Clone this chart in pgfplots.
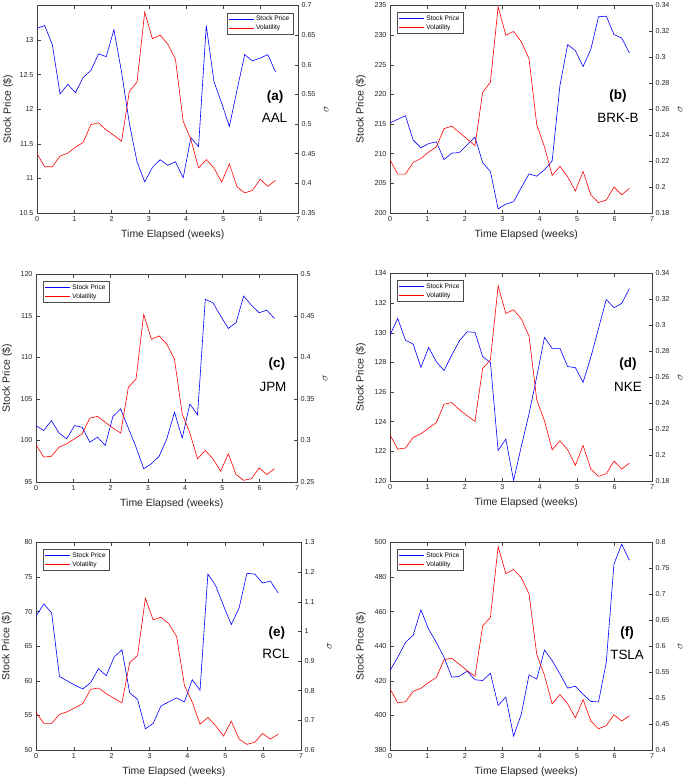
\documentclass[border=0pt]{standalone}
\usepackage{fontspec}
\setmainfont{Liberation Sans}
\usepackage{pgfplots}
\usepackage{pgfplotstable}
\pgfplotsset{compat=1.18}

% t = time (weeks), p = stock price, v = volatility
\pgfplotstableread{
t p v
0.000 13.17 0.450
0.206 13.21 0.428
0.413 12.93 0.428
0.619 12.22 0.446
0.825 12.36 0.451
1.032 12.24 0.461
1.238 12.46 0.469
1.444 12.56 0.499
1.651 12.80 0.502
1.857 12.76 0.490
2.063 13.15 0.481
2.270 12.53 0.471
2.476 11.80 0.555
2.683 11.24 0.571
2.889 10.95 0.689
3.095 11.16 0.644
3.302 11.27 0.650
3.508 11.19 0.635
3.714 11.24 0.609
3.921 11.01 0.505
4.127 11.59 0.474
4.333 11.46 0.426
4.540 13.21 0.440
4.746 12.40 0.426
4.952 12.09 0.402
5.159 11.75 0.433
5.365 12.28 0.394
5.571 12.79 0.384
5.778 12.70 0.388
5.984 12.74 0.407
6.190 12.79 0.395
6.397 12.54 0.405
}\aal

\pgfplotstableread{
t p v
0.000 215.2 0.221
0.206 215.8 0.210
0.413 216.4 0.210
0.619 212.3 0.219
0.825 211.0 0.222
1.032 211.7 0.227
1.238 212.0 0.231
1.444 209.0 0.245
1.651 210.1 0.247
1.857 210.2 0.242
2.063 211.5 0.237
2.270 212.8 0.232
2.476 208.5 0.273
2.683 207.0 0.281
2.889 200.7 0.339
3.095 201.5 0.317
3.302 201.9 0.320
3.508 204.3 0.312
3.714 206.6 0.299
3.921 206.2 0.248
4.127 207.3 0.231
4.333 208.8 0.209
4.540 221.5 0.216
4.746 228.4 0.208
4.952 227.4 0.197
5.159 224.7 0.212
5.365 227.6 0.194
5.571 233.1 0.188
5.778 233.2 0.190
5.984 230.1 0.200
6.190 229.5 0.194
6.397 227.0 0.199
}\brk

\pgfplotstableread{
t p v
0.000 101.8 0.295
0.206 101.2 0.280
0.413 102.4 0.281
0.619 100.9 0.292
0.825 100.2 0.296
1.032 101.8 0.302
1.238 101.6 0.308
1.444 99.8 0.327
1.651 100.4 0.329
1.857 99.4 0.322
2.063 102.9 0.315
2.270 103.8 0.309
2.476 101.5 0.364
2.683 99.2 0.374
2.889 96.6 0.452
3.095 97.2 0.422
3.302 98.1 0.426
3.508 100.2 0.416
3.714 103.4 0.398
3.921 100.3 0.332
4.127 104.4 0.309
4.333 103.1 0.278
4.540 117.0 0.288
4.746 116.6 0.278
4.952 115.0 0.263
5.159 113.5 0.284
5.365 114.2 0.259
5.571 117.4 0.252
5.778 116.3 0.254
5.984 115.4 0.267
6.190 115.7 0.259
6.397 114.7 0.266
}\jpm

\pgfplotstableread{
t p v
0.000 129.85 0.2156
0.206 130.97 0.2046
0.413 129.50 0.2054
0.619 129.24 0.2136
0.825 127.67 0.2164
1.032 129.00 0.2208
1.238 128.05 0.2251
1.444 127.45 0.2392
1.651 128.50 0.2405
1.857 129.47 0.2349
2.063 130.07 0.2303
2.270 130.03 0.2259
2.476 128.39 0.2669
2.683 128.00 0.2733
2.889 122.06 0.3305
3.095 122.83 0.3092
3.302 120.04 0.3121
3.508 122.33 0.3049
3.714 124.53 0.2918
3.921 127.04 0.2426
4.127 129.69 0.2264
4.333 128.95 0.2041
4.540 128.95 0.2110
4.746 127.72 0.2041
4.952 127.65 0.1921
5.159 126.66 0.2074
5.365 128.35 0.1892
5.571 130.30 0.1836
5.778 132.25 0.1856
5.984 131.69 0.1954
6.190 131.98 0.1892
6.397 132.99 0.1938
}\nke

\pgfplotstableread{
t p v
0.000 69.34 0.727
0.206 71.12 0.690
0.413 69.82 0.690
0.619 60.65 0.720
0.825 59.98 0.729
1.032 59.36 0.743
1.238 58.83 0.757
1.444 59.74 0.805
1.651 61.76 0.809
1.857 60.75 0.790
2.063 63.44 0.774
2.270 64.49 0.759
2.476 58.25 0.895
2.683 57.34 0.919
2.889 53.07 1.112
3.095 53.84 1.039
3.302 56.38 1.048
3.508 56.96 1.026
3.714 57.53 0.983
3.921 56.96 0.818
4.127 60.17 0.762
4.333 58.64 0.687
4.540 75.44 0.710
4.746 73.76 0.682
4.952 70.88 0.647
5.159 68.14 0.697
5.365 70.54 0.637
5.571 75.54 0.619
5.778 75.44 0.626
5.984 74.14 0.656
6.190 74.43 0.637
6.397 72.70 0.653
}\rcl

\pgfplotstableread{
t p v
0.000 425.9 0.518
0.206 433.6 0.491
0.413 442.2 0.493
0.619 446.4 0.513
0.825 461.0 0.519
1.032 449.9 0.530
1.238 442.2 0.540
1.444 433.6 0.574
1.651 422.1 0.577
1.857 422.7 0.565
2.063 425.6 0.553
2.270 420.6 0.542
2.476 420.2 0.639
2.683 424.4 0.656
2.889 405.8 0.792
3.095 410.6 0.740
3.302 388.0 0.748
3.508 400.7 0.732
3.714 423.4 0.701
3.921 421.1 0.584
4.127 437.8 0.544
4.333 431.7 0.489
4.540 424.0 0.507
4.746 415.8 0.489
4.952 416.9 0.462
5.159 412.2 0.497
5.365 408.1 0.456
5.571 407.8 0.441
5.778 430.7 0.447
5.984 487.6 0.468
6.190 499.0 0.456
6.397 489.7 0.466
}\tsla

\tikzset{
  lab/.style={font=\fontsize{13.5}{15}\selectfont\bfseries, anchor=center},
  nam/.style={font=\fontsize{13.5}{15}\selectfont, anchor=center},
}

\pgfplotsset{
  base/.style={
    scale only axis, height=207.5bp, width=261bp,
    anchor=south west,
    xmin=0, xmax=7, xtick={0,1,2,3,4,5,6,7},
    tick align=inside, major tick length=3.5bp,
    axis line style={black!75, line width=0.5bp, -},
    every tick/.style={black!75, line width=0.5bp},
    tick label style={font=\fontsize{7.2}{8}\selectfont, text=black!85},
    /pgf/number format/assume math mode=true,
  },
  leftax/.style={
    base,
    xtick pos=both, xticklabel pos=lower,
    ytick pos=left, yticklabel pos=left,
    xlabel={Time Elapsed (weeks)}, ylabel={Stock Price (\$)},
    label style={font=\fontsize{10.5}{12}\selectfont, text=black!85},
    xlabel style={at={(axis description cs:0.52,-0.106)}, anchor=center},
    ylabel style={at={(axis description cs:-0.111,0.5)}, anchor=center},
  },
  rightax/.style={
    base,
    hide x axis,
    axis y line*=right,
    ylabel={$\sigma$},
    label style={font=\fontsize{10.5}{12}\selectfont, text=black!85},
    ylabel style={at={(axis description cs:1.108,0.5)}, anchor=center},
    legend style={font=\fontsize{6.6}{7.4}\selectfont, draw=black!70, line width=0.4bp,
      inner xsep=1.5bp, inner ysep=1bp, row sep=-1.2bp, cells={anchor=west}},
    legend image code/.code={\draw[#1, draw=., line width=0.6bp] (0bp,0bp) -- (25bp,0bp);},
  },
  legNE/.style={legend style={at={(rel axis cs:0.981,0.966)}, anchor=north east}},
  legNW/.style={legend style={at={(rel axis cs:0.027,0.968)}, anchor=north west}},
  pr/.style={blue, line width=0.6bp, mark=none},
  vo/.style={red, line width=0.6bp, mark=none},
}

\begin{document}
\begin{tikzpicture}
\path[use as bounding box] (0bp,0bp) rectangle (685bp,-778bp);

% (a) AAL
\begin{axis}[leftax, at={(37bp,-213bp)}, ymin=10.5, ymax=13.5,
  ytick={10.5,11,11.5,12,12.5,13,13.5}, yticklabels={10.5,11,11.5,12,12.5,13,{}}]
\addplot[pr] table[x=t, y=p] {\aal};
\end{axis}
\begin{axis}[rightax, legNE, at={(37bp,-213bp)}, ymin=0.35, ymax=0.7, ytick={0.35,0.4,0.45,0.5,0.55,0.6,0.65,0.7}]
\addlegendimage{pr}\addlegendentry{Stock Price}
\addplot[vo] table[x=t, y=v] {\aal};\addlegendentry{Volatility}
\node[lab] at (rel axis cs:0.912,0.560) {(a)};
\node[nam] at (rel axis cs:0.910,0.459) {AAL};
\node[anchor=east, inner sep=0pt, font=\fontsize{7.2}{8}\selectfont, text=black]
  at ([xshift=-2.6bp, yshift=-0.3bp]rel axis cs:0,1) {13.5};
\end{axis}

% (b) BRK-B
\begin{axis}[leftax, width=262bp, at={(390bp,-213bp)}, ymin=200, ymax=235, ytick={200,205,...,235}]
\addplot[pr] table[x=t, y=p] {\brk};
\end{axis}
\begin{axis}[rightax, legNW, width=262bp, at={(390bp,-213bp)}, ymin=0.18, ymax=0.34, ytick={0.18,0.2,0.22,0.24,0.26,0.28,0.3,0.32,0.34}]
\addlegendimage{pr}\addlegendentry{Stock Price}
\addplot[vo] table[x=t, y=v] {\brk};\addlegendentry{Volatility}
\node[lab] at (rel axis cs:0.870,0.565) {(b)};
\node[nam] at (rel axis cs:0.870,0.459) {BRK-B};
\end{axis}

% (c) JPM
\begin{axis}[leftax, at={(36bp,-482bp)}, ymin=95, ymax=120, ytick={95,100,...,120}]
\addplot[pr] table[x=t, y=p] {\jpm};
\end{axis}
\begin{axis}[rightax, legNW, at={(36bp,-482bp)}, ymin=0.25, ymax=0.5, ytick={0.25,0.3,0.35,0.4,0.45,0.5}]
\addlegendimage{pr}\addlegendentry{Stock Price}
\addplot[vo] table[x=t, y=v] {\jpm};\addlegendentry{Volatility}
\node[lab] at (rel axis cs:0.923,0.567) {(c)};
\node[nam] at (rel axis cs:0.908,0.457) {JPM};
\end{axis}

% (d) NKE
\begin{axis}[leftax, width=262bp, at={(390bp,-481bp)}, ymin=120, ymax=134, ytick={120,122,...,134}]
\addplot[pr] table[x=t, y=p] {\nke};
\end{axis}
\begin{axis}[rightax, legNW, width=262bp, at={(390bp,-481bp)}, ymin=0.18, ymax=0.34, ytick={0.18,0.2,0.22,0.24,0.26,0.28,0.3,0.32,0.34}]
\addlegendimage{pr}\addlegendentry{Stock Price}
\addplot[vo] table[x=t, y=v] {\nke};\addlegendentry{Volatility}
\node[lab] at (rel axis cs:0.908,0.5625) {(d)};
\node[nam] at (rel axis cs:0.908,0.452) {NKE};
\end{axis}

% (e) RCL
\begin{axis}[leftax, width=265bp, at={(36bp,-750bp)}, ymin=50, ymax=80, ytick={50,55,...,80}]
\addplot[pr] table[x=t, y=p] {\rcl};
\end{axis}
\begin{axis}[rightax, legNW, width=265bp, at={(36bp,-750bp)}, ymin=0.6, ymax=1.3, ytick={0.6,0.7,0.8,0.9,1,1.1,1.2,1.3}]
\addlegendimage{pr}\addlegendentry{Stock Price}
\addplot[vo] table[x=t, y=v] {\rcl};\addlegendentry{Volatility}
\node[lab] at (rel axis cs:0.909,0.5625) {(e)};
\node[nam] at (rel axis cs:0.905,0.462) {RCL};
\end{axis}

% (f) TSLA
\begin{axis}[leftax, width=262bp, at={(390bp,-750bp)}, ymin=380, ymax=500, ytick={380,400,...,500}]
\addplot[pr] table[x=t, y=p] {\tsla};
\end{axis}
\begin{axis}[rightax, legNW, width=262bp, at={(390bp,-750bp)}, ymin=0.4, ymax=0.8, ytick={0.4,0.45,0.5,0.55,0.6,0.65,0.7,0.75,0.8}]
\addlegendimage{pr}\addlegendentry{Stock Price}
\addplot[vo] table[x=t, y=v] {\tsla};\addlegendentry{Volatility}
\node[lab] at (rel axis cs:0.905,0.5625) {(f)};
\node[nam] at (rel axis cs:0.905,0.457) {TSLA};
\end{axis}
\end{tikzpicture}
\end{document}
